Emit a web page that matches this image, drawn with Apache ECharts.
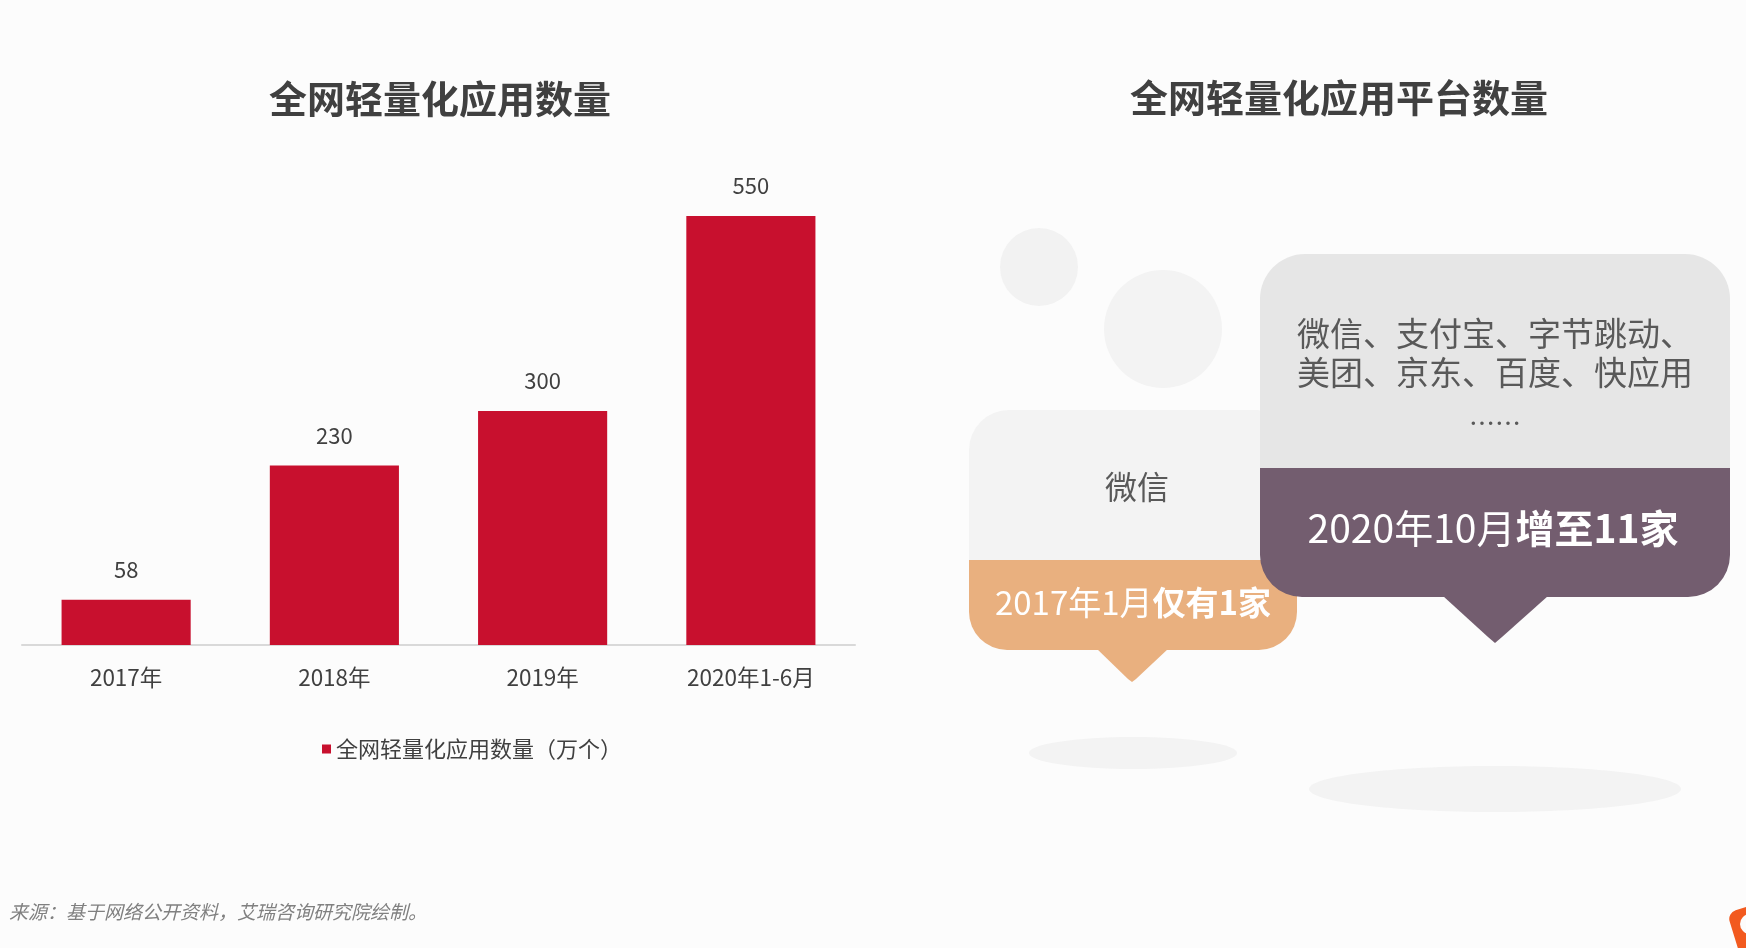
<!DOCTYPE html>
<html>
<head>
<meta charset="utf-8">
<script src="https://cdn.jsdelivr.net/npm/echarts@6/dist/echarts.min.js"></script>
<style>
html,body{margin:0;padding:0;background:#fcfcfc;}
#main{width:1746px;height:948px;}
</style>
</head>
<body>
<div id="main"></div>
<script>
// ---- data ----
const categories = ['2017年', '2018年', '2019年', '2020年1-6月'];
const appCounts = [58, 230, 300, 550];
const seriesName = '全网轻量化应用数量（万个）';
const leftTitle = '全网轻量化应用数量';
const rightTitle = '全网轻量化应用平台数量';
const platforms2017 = '微信';
const label2017 = ['2017年1月', '仅有1家'];
const platforms2020 = ['微信、支付宝、字节跳动、', '美团、京东、百度、快应用', '……'];
const label2020 = ['2020年10月', '增至11家'];
const sourceNote = '来源：基于网络公开资料，艾瑞咨询研究院绘制。';

const FONT = '"Noto Sans CJK SC", "Microsoft YaHei", sans-serif';
const chart = echarts.init(document.getElementById('main'));

function txt(text, x, y, size, color, extra) {
  return {
    type: 'text', x: x, y: y, z: 20,
    style: Object.assign({
      text: text, fill: color, fontSize: size, fontFamily: FONT,
      align: 'center', verticalAlign: 'middle'
    }, extra || {})
  };
}

const graphics = [
  // titles
  txt(leftTitle, 440, 99, 38, '#404040', {fontWeight: 'bold'}),
  txt(rightTitle, 1339, 98, 38, '#404040', {fontWeight: 'bold'}),
  // decorative circles
  {type: 'circle', shape: {cx: 1039, cy: 267, r: 39}, style: {fill: '#f2f2f2'}, z: 1},
  {type: 'circle', shape: {cx: 1163, cy: 329, r: 59}, style: {fill: '#f3f3f3'}, z: 1},
  // shadows
  {type: 'ellipse', shape: {cx: 1133, cy: 753, rx: 104, ry: 16}, style: {fill: '#f3f3f3'}, z: 1},
  {type: 'ellipse', shape: {cx: 1495, cy: 789, rx: 186, ry: 23}, style: {fill: '#f3f3f3'}, z: 1},
  // left bubble
  {type: 'rect', shape: {x: 969, y: 410, width: 328, height: 151, r: [40, 40, 0, 0]}, style: {fill: '#f3f3f3'}, z: 5},
  {type: 'rect', shape: {x: 969, y: 560, width: 328, height: 90, r: [0, 0, 38, 38]}, style: {fill: '#e9b07f'}, z: 5},
  {type: 'polygon', shape: {points: [[1096, 648], [1169, 648], [1136, 679], [1132, 682], [1128, 679]]}, style: {fill: '#e9b07f'}, z: 5},
  txt(platforms2017, 1137, 487, 32, '#595959', {}),
  {
    type: 'text', x: 1133, y: 602, z: 20,
    style: {
      text: '{n|' + label2017[0] + '}{b|' + label2017[1] + '}',
      align: 'center', verticalAlign: 'middle', fill: '#ffffff', fontFamily: FONT, fontSize: 33,
      rich: {
        n: {fontSize: 33, fill: '#ffffff', fontFamily: FONT},
        b: {fontSize: 33, fill: '#ffffff', fontFamily: FONT, fontWeight: 'bold'}
      }
    }
  },
  // right bubble
  {type: 'rect', shape: {x: 1260, y: 254, width: 470, height: 215, r: [45, 45, 0, 0]}, style: {fill: '#e6e6e6'}, z: 8},
  {type: 'rect', shape: {x: 1260, y: 468, width: 470, height: 129, r: [0, 0, 42, 42]}, style: {fill: '#735d6f'}, z: 8},
  {type: 'polygon', shape: {points: [[1443, 596], [1548, 596], [1502, 637], [1495, 643], [1488, 637]]}, style: {fill: '#735d6f'}, z: 8},
  txt(platforms2020[0], 1495, 333, 33, '#595959', {}),
  txt(platforms2020[1], 1495, 372, 33, '#595959', {}),
  txt(platforms2020[2], 1495, 423, 26, '#595959', {}),
  {
    type: 'text', x: 1493, y: 528, z: 20,
    style: {
      text: '{n|' + label2020[0] + '}{b|' + label2020[1] + '}',
      align: 'center', verticalAlign: 'middle', fill: '#ffffff', fontFamily: FONT, fontSize: 39,
      rich: {
        n: {fontSize: 39, fill: '#ffffff', fontFamily: FONT},
        b: {fontSize: 39, fill: '#ffffff', fontFamily: FONT, fontWeight: 'bold'}
      }
    }
  },
  // source note
  {
    type: 'text', x: 9, y: 912, z: 20,
    style: {text: sourceNote, fill: '#808080', fontSize: 19, fontStyle: 'italic', fontFamily: FONT, align: 'left', verticalAlign: 'middle'}
  },
  // corner logo
  {type: 'rect', x: 1727, y: 913, rotation: 0.3, shape: {x: 0, y: 0, width: 44, height: 60, r: 9}, style: {fill: '#f25a1f'}, z: 20},
  {type: 'circle', shape: {cx: 1750, cy: 924, r: 10}, style: {fill: '#fcfcfc'}, z: 21}
];

const option = {
  backgroundColor: '#fcfcfc',
  animation: false,
  textStyle: {fontFamily: FONT},
  grid: {left: 22, right: 891, top: 216, bottom: 303, containLabel: false},
  legend: {
    show: true,
    left: 317, top: 733,
    icon: 'rect', itemWidth: 9, itemHeight: 9,
    textStyle: {fontSize: 22, color: '#404040', fontFamily: FONT},
    data: [seriesName]
  },
  xAxis: {
    type: 'category',
    data: categories,
    axisLine: {show: true, lineStyle: {color: '#d9d9d9', width: 2}},
    axisTick: {show: false},
    axisLabel: {fontSize: 22.5, color: '#404040', margin: 21, fontFamily: FONT},
    splitLine: {show: false}
  },
  yAxis: {
    type: 'value', min: 0, max: 550, show: false,
    splitLine: {show: false}
  },
  series: [{
    name: seriesName,
    type: 'bar',
    data: appCounts,
    barWidth: '62%',
    itemStyle: {color: '#c8102e'},
    label: {show: true, position: 'top', distance: 19, fontSize: 22, color: '#404040', fontFamily: FONT}
  }],
  graphic: graphics
};
chart.setOption(option);
</script>
</body>
</html>
